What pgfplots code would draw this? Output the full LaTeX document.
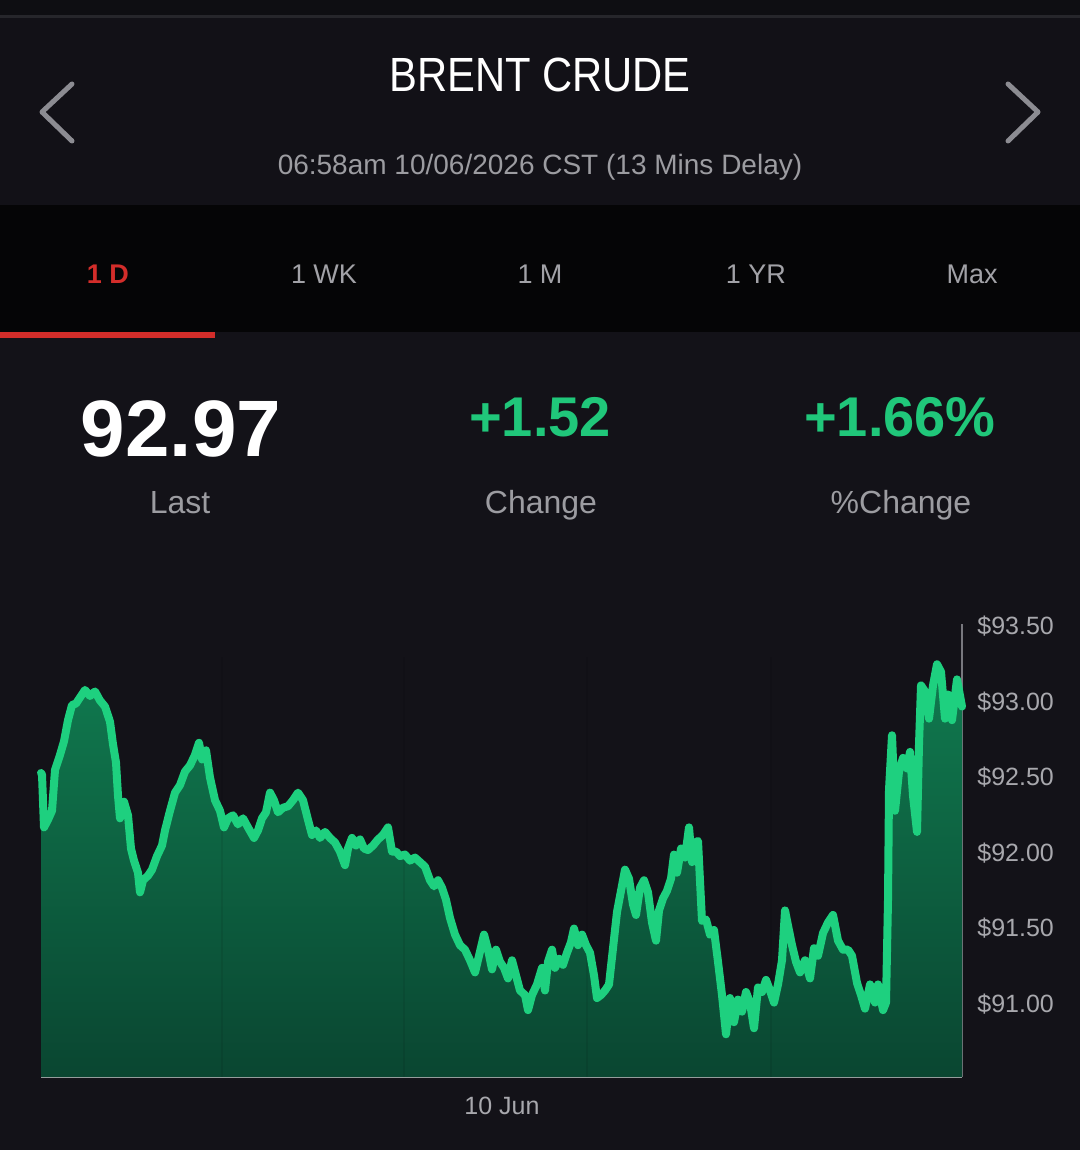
\documentclass[border=0pt]{standalone}
\usepackage{pgfplots}
\pgfplotsset{compat=1.18}
\usepackage{pgfplotstable}
\usepackage{fontspec}
\setmainfont{Liberation Sans}

\definecolor{bg}{RGB}{19,18,24}
\definecolor{topstrip}{RGB}{14,14,18}
\definecolor{sepline}{RGB}{38,38,43}
\definecolor{header}{RGB}{18,17,23}
\definecolor{tabbar}{RGB}{5,5,6}
\definecolor{tabred}{RGB}{211,45,42}
\definecolor{subgray}{RGB}{156,156,161}
\definecolor{tabgray}{RGB}{162,162,167}
\definecolor{chev}{RGB}{140,140,146}
\definecolor{numgreen}{RGB}{32,199,122}
\definecolor{linegreen}{RGB}{30,208,127}
\definecolor{areatop}{RGB}{16,122,79}
\definecolor{areabot}{RGB}{10,70,49}
\definecolor{axisx}{RGB}{170,170,172}
\definecolor{axisy}{RGB}{120,120,126}
\definecolor{lbl}{RGB}{168,168,173}

\pgfplotstableread{
x y
41 92.53
42 92.52
44 92.17
48 92.22
52 92.28
55 92.55
60 92.65
64 92.74
68 92.88
72 92.98
76 92.99
80 93.03
85 93.08
90 93.04
95 93.07
100 93.01
105 92.97
110 92.87
113 92.72
116 92.60
118 92.38
120 92.23
124 92.34
128 92.25
131 92.03
134 91.95
138 91.87
140 91.74
143 91.82
148 91.85
152 91.89
157 91.98
162 92.05
165 92.15
170 92.28
175 92.40
180 92.45
185 92.54
190 92.58
195 92.65
199 92.73
202 92.62
206 92.68
210 92.50
215 92.35
220 92.28
224 92.17
228 92.23
233 92.25
238 92.19
243 92.23
248 92.17
254 92.10
258 92.15
262 92.23
266 92.27
270 92.40
274 92.35
278 92.27
283 92.30
288 92.31
293 92.35
298 92.40
303 92.35
308 92.22
312 92.12
316 92.15
320 92.10
325 92.14
330 92.10
335 92.07
340 92.01
345 91.92
348 92.03
352 92.10
356 92.05
360 92.09
364 92.03
368 92.02
373 92.05
378 92.09
383 92.12
388 92.17
392 92.01
396 92.01
400 91.98
405 91.99
410 91.95
415 91.97
420 91.94
425 91.91
430 91.82
434 91.78
438 91.82
442 91.77
446 91.69
450 91.57
455 91.46
460 91.39
465 91.36
470 91.29
475 91.21
479 91.32
484 91.46
488 91.36
492 91.23
496 91.36
500 91.28
504 91.24
508 91.17
512 91.29
516 91.19
520 91.09
525 91.06
528 90.96
532 91.06
537 91.13
542 91.24
545 91.09
548 91.28
552 91.36
555 91.24
559 91.30
563 91.26
567 91.34
571 91.41
574 91.50
578 91.39
582 91.46
586 91.39
590 91.34
594 91.19
597 91.04
601 91.06
605 91.09
609 91.13
613 91.37
617 91.61
621 91.75
625 91.89
629 91.83
633 91.66
636 91.59
640 91.77
644 91.82
648 91.74
652 91.54
656 91.42
659 91.62
663 91.70
667 91.75
671 91.83
674 91.99
677 91.87
681 92.03
685 91.97
689 92.17
692 91.94
695 92.07
698 92.08
702 91.55
706 91.56
710 91.46
714 91.49
718 91.28
722 91.06
726 90.80
730 91.04
734 90.88
738 91.03
742 90.95
746 91.08
750 91.01
754 90.84
758 91.11
762 91.08
766 91.16
770 91.09
774 91.01
778 91.13
782 91.29
785 91.62
788 91.52
792 91.39
796 91.28
800 91.21
805 91.29
810 91.17
814 91.37
818 91.32
823 91.47
828 91.54
833 91.59
838 91.42
843 91.36
848 91.36
852 91.32
857 91.14
861 91.06
865 90.97
870 91.13
875 91.01
878 91.13
883 90.96
886 91.01
888 91.69
889 92.42
892 92.78
895 92.28
899 92.54
903 92.63
907 92.56
910 92.67
913 92.38
917 92.14
919 92.72
921 93.11
925 93.07
929 92.89
933 93.11
937 93.25
941 93.20
945 92.89
948 93.05
952 92.88
957 93.15
962 92.97
}\brent

\begin{document}
\begin{tikzpicture}[x=0.5pt,y=0.5pt]
\useasboundingbox (0,0) rectangle (1080,-1150);
% backgrounds
\fill[bg] (0,0) rectangle (1080,-1150);
\fill[topstrip] (0,0) rectangle (1080,-15);
\fill[sepline] (0,-15) rectangle (1080,-18);
\fill[header] (0,-18) rectangle (1080,-205);
\fill[tabbar] (0,-205) rectangle (1080,-332);
\fill[tabred] (0,-332) rectangle (215,-338);
% header
\draw[chev, line width=2.5pt, line cap=round, line join=round] (72,-84) -- (42,-112) -- (72,-141);
\draw[chev, line width=2.5pt, line cap=round, line join=round] (1008,-84) -- (1038,-112) -- (1008,-141);
\node[anchor=base, inner sep=0pt, text=white, font=\fontsize{24}{28}\selectfont] at (540,-92) {\scalebox{0.87}[1]{BRENT CRUDE}};
\node[anchor=base, inner sep=0pt, text=subgray, font=\fontsize{14}{17}\selectfont] at (540,-175) {06:58am 10/06/2026 CST (13 Mins Delay)};
% tabs
\node[anchor=base, inner sep=0pt, text=tabred, font=\fontsize{13.5}{16}\selectfont\bfseries] at (108,-284) {1 D};
\node[anchor=base, inner sep=0pt, text=tabgray, font=\fontsize{13.5}{16}\selectfont] at (324,-284) {1 WK};
\node[anchor=base, inner sep=0pt, text=tabgray, font=\fontsize{13.5}{16}\selectfont] at (540,-284) {1 M};
\node[anchor=base, inner sep=0pt, text=tabgray, font=\fontsize{13.5}{16}\selectfont] at (756,-284) {1 YR};
\node[anchor=base, inner sep=0pt, text=tabgray, font=\fontsize{13.5}{16}\selectfont] at (972,-284) {Max};
% quote
\node[anchor=base, inner sep=0pt, text=white, font=\fontsize{40}{46}\selectfont\bfseries] at (181,-456) {92.97};
\node[anchor=base, inner sep=0pt, text=numgreen, font=\fontsize{28}{32}\selectfont\bfseries] at (540,-436) {+1.52};
\node[anchor=base, inner sep=0pt, text=numgreen, font=\fontsize{28}{32}\selectfont\bfseries] at (900,-436) {+1.66\%};
\node[anchor=base, inner sep=0pt, text=subgray, font=\fontsize{16}{19}\selectfont] at (180,-513) {Last};
\node[anchor=base, inner sep=0pt, text=subgray, font=\fontsize{16}{19}\selectfont] at (541,-513) {Change};
\node[anchor=base, inner sep=0pt, text=subgray, font=\fontsize{16}{19}\selectfont] at (901,-513) {\%Change};
% chart
\begin{axis}[
  at={(20.5pt,-538.5pt)}, anchor=south west,
  scale only axis, width=460.5pt, height=226.75pt,
  xmin=41, xmax=962, ymin=90.517, ymax=93.52,
  axis x line*=bottom, axis y line*=right,
  x axis line style={draw=axisx, line width=1pt, -},
  y axis line style={draw=axisy, line width=0.7pt, -},
  major tick length=0pt,
  xtick={502}, xticklabels={10 Jun},
  ytick={91,91.5,92,92.5,93,93.5},
  yticklabels={\$91.00,\$91.50,\$92.00,\$92.50,\$93.00,\$93.50},
  ticklabel style={font=\fontsize{12.5}{15}\selectfont, text=lbl},
  yticklabel style={anchor=west, inner sep=0pt, xshift=7.5pt},
  xticklabel style={anchor=base, inner sep=0pt, yshift=-18.5pt},
  clip=false,
]
\addplot[draw=none, top color=areatop, bottom color=areabot] table[x=x,y=y] {\brent} -- (axis cs:962,90.517) -- (axis cs:41,90.517) -- cycle;
\draw[black, opacity=0.07, line width=0.8pt] (axis cs:222,90.517) -- (axis cs:222,93.3);
\draw[black, opacity=0.07, line width=0.8pt] (axis cs:404,90.517) -- (axis cs:404,93.3);
\draw[black, opacity=0.07, line width=0.8pt] (axis cs:587,90.517) -- (axis cs:587,93.3);
\draw[black, opacity=0.07, line width=0.8pt] (axis cs:771,90.517) -- (axis cs:771,93.3);
\addplot[linegreen, line width=4pt, line join=round, line cap=round, mark=none] table[x=x,y=y] {\brent};
\end{axis}
\end{tikzpicture}
\end{document}
